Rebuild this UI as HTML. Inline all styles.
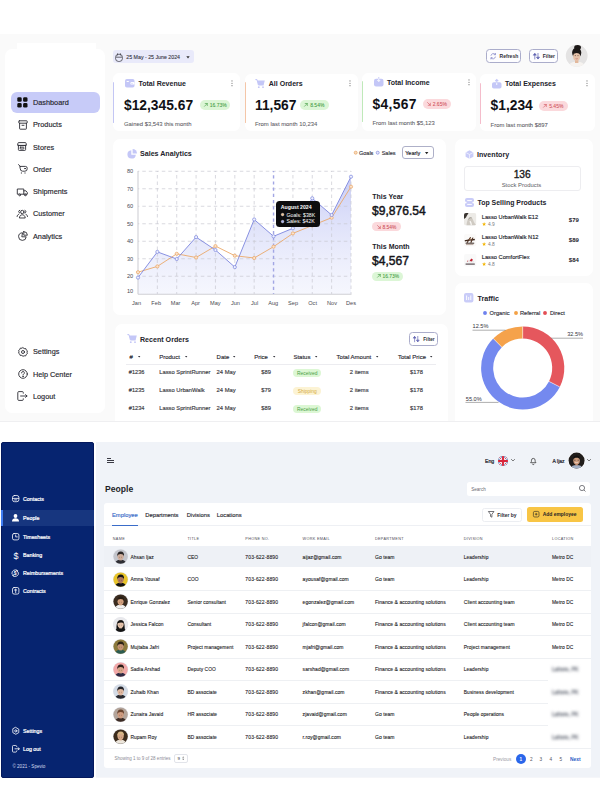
<!DOCTYPE html>
<html><head><meta charset="utf-8">
<style>
*{margin:0;padding:0;box-sizing:border-box}
html,body{width:600px;height:800px;overflow:hidden;background:#fff;font-family:"Liberation Sans",sans-serif;color:#1d1d24}
.a{position:absolute;line-height:1;white-space:nowrap}
.s{position:absolute;overflow:visible}
</style></head><body>
<div class="a" style="left:0px;top:34px;width:600px;height:387px;background:#fafafa;border-radius:0px;"></div>
<div class="a" style="left:0px;top:420.6px;width:600px;height:0.9px;background:#efeff1;border-radius:0px;"></div>
<div class="a" style="left:5px;top:49px;width:100px;height:363.6px;background:#fff;border-radius:7px;"></div>
<div class="a" style="left:17px;top:43px;width:79px;height:12px;background:#fff;border-radius:0px;"></div>
<div class="a" style="left:11px;top:91.6px;width:88.8px;height:21.2px;background:#c7cbf8;border-radius:6px;"></div>
<div class="a" style="left:33.00px;top:98.80px;font-size:7.3px;color:#26262e;-webkit-text-stroke:0.15px #26262e;">Dashboard</div>
<div class="a" style="left:33.00px;top:121.10px;font-size:7.3px;color:#26262e;-webkit-text-stroke:0.15px #26262e;">Products</div>
<div class="a" style="left:33.00px;top:143.50px;font-size:7.3px;color:#26262e;-webkit-text-stroke:0.15px #26262e;">Stores</div>
<div class="a" style="left:33.00px;top:165.70px;font-size:7.3px;color:#26262e;-webkit-text-stroke:0.15px #26262e;">Order</div>
<div class="a" style="left:33.00px;top:188.00px;font-size:7.3px;color:#26262e;-webkit-text-stroke:0.15px #26262e;">Shipments</div>
<div class="a" style="left:33.00px;top:210.30px;font-size:7.3px;color:#26262e;-webkit-text-stroke:0.15px #26262e;">Customer</div>
<div class="a" style="left:33.00px;top:232.60px;font-size:7.3px;color:#26262e;-webkit-text-stroke:0.15px #26262e;">Analytics</div>
<div class="a" style="left:33.00px;top:347.90px;font-size:7.3px;color:#26262e;-webkit-text-stroke:0.15px #26262e;">Settings</div>
<div class="a" style="left:33.00px;top:370.50px;font-size:7.3px;color:#26262e;-webkit-text-stroke:0.15px #26262e;">Help Center</div>
<div class="a" style="left:33.00px;top:392.70px;font-size:7.3px;color:#26262e;-webkit-text-stroke:0.15px #26262e;">Logout</div>
<svg class="s" style="left:17px;top:97px;" width="11" height="11" viewBox="0 0 11 11"><rect x="0.3" y="0.3" width="4.4" height="4.4" rx="1.3" fill="#111"/><rect x="6.1" y="0.3" width="4.4" height="4.4" rx="1.3" fill="#111"/><rect x="0.3" y="6.1" width="4.4" height="4.4" rx="1.3" fill="#111"/><rect x="6.1" y="6.1" width="4.4" height="4.4" rx="1.3" fill="#111"/></svg>
<svg class="s" style="left:17.5px;top:119.5px;" width="10" height="10" viewBox="0 0 10 10"><g fill="none" stroke="#2b2b33" stroke-width="0.9" stroke-linecap="round" stroke-linejoin="round"><rect x="0.8" y="0.8" width="8.4" height="2.4" rx="0.5"/><path d="M1.6 3.2v5.4a0.6 0.6 0 0 0 0.6 0.6h5.6a0.6 0.6 0 0 0 0.6-0.6V3.2"/><path d="M4 5.3h2"/></g></svg>
<svg class="s" style="left:17.3px;top:142.4px;" width="10" height="9" viewBox="0 0 10 9"><g fill="none" stroke="#2b2b33" stroke-width="0.9" stroke-linecap="round" stroke-linejoin="round"><path d="M0.8 3V1.6a1 1 0 0 1 1-1h6.4a1 1 0 0 1 1 1V3z"/><path d="M0.8 3a1.1 1.1 0 0 0 2.1 0a1.1 1.1 0 0 0 2.1 0a1.1 1.1 0 0 0 2.1 0a1.1 1.1 0 0 0 2.1 0"/><path d="M1.4 3.8v3.8a0.8 0.8 0 0 0 0.8 0.8h5.6a0.8 0.8 0 0 0 0.8-0.8V3.8"/><rect x="3.2" y="5.2" width="3.6" height="1.8" rx="0.4"/></g></svg>
<svg class="s" style="left:17.6px;top:164.2px;" width="10" height="10" viewBox="0 0 10 10"><g fill="none" stroke="#2b2b33" stroke-width="0.9" stroke-linecap="round" stroke-linejoin="round"><path d="M0.6 0.6L2.2 2.4"/><path d="M2.2 2.4h5.2a1.8 1.8 0 0 1 1.8 1.8v0.6a2.4 2.4 0 0 1-2.4 2.4H4.6a2.4 2.4 0 0 1-2.4-2.4z"/><circle cx="7" cy="4.6" r="0.35" fill="#2b2b33"/><path d="M3.4 8.8v0.4M7 8.8v0.4"/></g></svg>
<svg class="s" style="left:17px;top:186.5px;" width="11" height="10" viewBox="0 0 11 10"><g fill="none" stroke="#2b2b33" stroke-width="0.9" stroke-linecap="round" stroke-linejoin="round"><path d="M0.7 2h6.1v5.2H0.7z"/><path d="M6.8 3.8h2.1l1.4 1.7v1.7H6.8"/><circle cx="2.6" cy="7.9" r="0.9" fill="#fff"/><circle cx="8.3" cy="7.9" r="0.9" fill="#fff"/></g></svg>
<svg class="s" style="left:17px;top:209.4px;" width="11" height="9" viewBox="0 0 11 9"><g fill="none" stroke="#2b2b33" stroke-width="0.9" stroke-linecap="round" stroke-linejoin="round"><circle cx="5.3" cy="3" r="1.7"/><path d="M2.4 8.6c0.2-1.8 1.4-2.8 2.9-2.8s2.7 1 2.9 2.8z"/><path d="M7.9 1.3a1.4 1.4 0 0 1 0 2.7M8.9 5.3c0.9 0.3 1.5 1 1.6 2.2M2.7 1.3a1.4 1.4 0 0 0 0 2.7M1.7 5.3c-0.9 0.3-1.5 1-1.6 2.2"/></g></svg>
<svg class="s" style="left:17.5px;top:231px;" width="10" height="10" viewBox="0 0 10 10"><g fill="none" stroke="#2b2b33" stroke-width="0.9" stroke-linecap="round" stroke-linejoin="round"><path d="M4.2 1.8a3.8 3.8 0 1 0 4 4H4.2z"/><path d="M5.8 0.6v3.6h3.6A3.6 3.6 0 0 0 5.8 0.6z"/></g></svg>
<svg class="s" style="left:17.5px;top:346.5px;" width="10" height="10" viewBox="0 0 10 10"><g fill="none" stroke="#2b2b33" stroke-width="0.9" stroke-linecap="round" stroke-linejoin="round"><path d="M5 0.7l1.2 0.9 1.5-0.1 0.5 1.4 1.2 0.9-0.4 1.4 0.4 1.4-1.2 0.9-0.5 1.4-1.5-0.1L5 9.3 3.8 8.4l-1.5 0.1-0.5-1.4-1.2-0.9 0.4-1.4-0.4-1.4 1.2-0.9 0.5-1.4 1.5 0.1z"/><circle cx="5" cy="5" r="1.5"/></g></svg>
<svg class="s" style="left:17.5px;top:369px;" width="10" height="10" viewBox="0 0 10 10"><g fill="none" stroke="#2b2b33" stroke-width="0.9" stroke-linecap="round" stroke-linejoin="round"><circle cx="5" cy="5" r="4.3"/><path d="M3.6 3.9a1.4 1.4 0 1 1 1.9 1.3c-0.4 0.2-0.5 0.5-0.5 0.9"/><circle cx="5" cy="7.4" r="0.25" fill="#2b2b33"/></g></svg>
<svg class="s" style="left:17px;top:391px;" width="11" height="10" viewBox="0 0 11 10"><g fill="none" stroke="#2b2b33" stroke-width="0.9" stroke-linecap="round" stroke-linejoin="round"><path d="M6.3 2.2V1.6a1 1 0 0 0-1-1H1.8a1 1 0 0 0-1 1v6.8a1 1 0 0 0 1 1h3.5a1 1 0 0 0 1-1v-0.6"/><path d="M3.6 5h6.4M8.6 3.6L10 5 8.6 6.4"/></g></svg>
<div class="a" style="left:113px;top:50.2px;width:81.4px;height:13.2px;background:#e9eafa;border-radius:3px;"></div>
<svg class="s" style="left:115.4px;top:52.6px;" width="8" height="9" viewBox="0 0 8 9"><g fill="none" stroke="#3a3a42" stroke-width="0.75"><rect x="0.5" y="1.3" width="7" height="7.2" rx="3.2"/><path d="M2.6 0.3v2M5.4 0.3v2M1 4.2h6"/></g></svg>
<div class="a" style="left:126.30px;top:54.88px;font-size:5.25px;color:#2e2e38;-webkit-text-stroke:0.08px #2e2e38;">25 May - 25 June 2024</div>
<svg class="s" style="left:185.5px;top:56px;" width="4" height="3" viewBox="0 0 4 3"><path d="M0.3 0.3h3.4L2 2.4z" fill="#333"/></svg>
<div class="a" style="left:485.5px;top:49px;width:35.5px;height:14px;border:0.9px solid #abadcb;border-radius:3.5px;background:#fdfdff"></div>
<svg class="s" style="left:489.8px;top:53px;" width="6.4" height="6.4" viewBox="0 0 6.4 6.4"><g fill="none" stroke="#7a7dc4" stroke-width="0.7" stroke-linecap="round"><path d="M1 2.4A2.5 2.5 0 0 1 5.2 1.3"/><path d="M5.4 4A2.5 2.5 0 0 1 1.2 5.1"/><path d="M5.5 0.4v1.3H4.2M0.9 6V4.7h1.3"/></g></svg>
<div class="a" style="left:499.60px;top:53.94px;font-size:5.0px;color:#2e2e36;font-weight:bold;">Refresh</div>
<div class="a" style="left:529px;top:49px;width:28.5px;height:14px;border:0.9px solid #abadcb;border-radius:3.5px;background:#fdfdff"></div>
<svg class="s" style="left:533px;top:53px;" width="7" height="6.4" viewBox="0 0 7 6.4"><g fill="none" stroke="#5a5cae" stroke-width="0.7" stroke-linecap="round"><path d="M1.8 6V0.6"/><path d="M0.5 1.9L1.8 0.5 3.1 1.9z" fill="#5a5cae"/><path d="M5 0.4v5.4"/><path d="M3.7 4.5L5 5.9 6.3 4.5z" fill="#5a5cae"/></g></svg>
<div class="a" style="left:542.80px;top:53.94px;font-size:5.0px;color:#2e2e36;font-weight:bold;">Filter</div>
<svg class="s" style="left:564.8px;top:43.6px;" width="23.4" height="23.4" viewBox="0 0 23.4 23.4"><defs><clipPath id="av1"><circle cx="11.7" cy="11.7" r="10.9"/></clipPath></defs>
<circle cx="11.7" cy="11.7" r="11.7" fill="#fbfbfb"/>
<g clip-path="url(#av1)"><rect width="23.4" height="23.4" fill="#e4e3e3"/>
<path d="M3 23.4c1.2-4.4 4.4-5.6 8.7-5.6s7.6 1.2 8.7 5.6z" fill="#f6f3f0"/>
<rect x="10" y="15" width="3.4" height="4" fill="#e2b89c"/>
<ellipse cx="11.7" cy="8.8" rx="4.6" ry="5.2" fill="#1c1817"/>
<ellipse cx="12.6" cy="3.4" rx="3.4" ry="2.4" fill="#1c1817"/>
<ellipse cx="11.6" cy="12.2" rx="3.5" ry="4.5" fill="#e7c3aa"/>
<path d="M7.9 11.4c0.2-2.6 1.6-4.3 3.8-4.3s3.6 1.7 3.8 4.3c-0.8-1.6-2.2-2.4-3.8-2.4s-3 0.8-3.8 2.4z" fill="#1c1817"/>
<path d="M9.8 11.6h1.2M12.4 11.6h1.2" stroke="#4a3028" stroke-width="0.6"/>
<path d="M10.6 14.6c0.7 0.4 1.5 0.4 2.2 0" stroke="#b0505a" stroke-width="0.5" fill="none"/></g></svg>
<div class="a" style="left:113px;top:73px;width:127px;height:58px;background:#fff;border-radius:6px;"></div>
<div class="a" style="left:112.5px;top:82px;width:1.5px;height:41px;background:#c3c6f4;border-radius:1px;"></div>
<svg class="s" style="left:125.0px;top:79px;" width="9.5" height="8.5" viewBox="0 0 9.5 8.5"><rect x="0" y="0" width="9.5" height="8.5" rx="1.8" fill="#c4c7f7"/><rect x="1.5" y="2" width="2.5" height="0.9" rx="0.4" fill="#fff"/><rect x="5.4" y="3" width="4.1" height="2.6" rx="1.2" fill="#fff"/><circle cx="7" cy="4.3" r="0.6" fill="#c4c7f7"/></svg>
<div class="a" style="left:138.50px;top:79.70px;font-size:7.0px;color:#23232b;font-weight:bold;">Total Revenue</div>
<div class="a" style="left:124.00px;top:98.81px;font-size:13.8px;color:#111116;font-weight:bold;">$12,345.67</div>
<div class="a" style="left:199.5px;top:100px;width:30px;height:10px;background:#dcf6d6;border-radius:5.0px;"></div>
<svg class="s" style="left:203.7px;top:103.1px;" width="3.8" height="3.8" viewBox="0 0 3.8 3.8"><path d="M0.5 3.3L3.3 0.5M1.2 0.5h2.1v2.1" fill="none" stroke="#3f9a3f" stroke-width="0.6" stroke-linecap="round" stroke-linejoin="round"/></svg>
<div class="a" style="left:209.70px;top:103.21px;font-size:5.0px;color:#3f9a3f;-webkit-text-stroke:0.06px #3f9a3f;">16.73%</div>
<div class="a" style="left:124.00px;top:122.11px;font-size:5.9px;color:#5f5f68;-webkit-text-stroke:0.08px #5f5f68;">Gained $3,543 this month</div>
<svg class="s" style="left:231.3px;top:79.8px;" width="2" height="7" viewBox="0 0 2 7"><circle cx="1" cy="0.9" r="0.6" fill="#777"/><circle cx="1" cy="3.3" r="0.6" fill="#777"/><circle cx="1" cy="5.7" r="0.6" fill="#777"/></svg>
<div class="a" style="left:245px;top:73.5px;width:112.5px;height:57.5px;background:#fff;border-radius:6px;"></div>
<div class="a" style="left:244.5px;top:82px;width:1.5px;height:41px;background:#f4c6a8;border-radius:1px;"></div>
<svg class="s" style="left:255.3px;top:78.5px;" width="10" height="9.5" viewBox="0 0 10 9.5"><path d="M0.4 0.6h1.6l1.4 5.4h5.2l1.2-4.4H2.4z" fill="#c4c7f7"/><path d="M0.4 0.6h1.6l1.4 5.4h5.2" stroke="#c4c7f7" stroke-width="1" fill="none"/><circle cx="3.8" cy="8.2" r="0.9" fill="#c4c7f7"/><circle cx="8" cy="8.2" r="0.9" fill="#c4c7f7"/></svg>
<div class="a" style="left:268.80px;top:79.70px;font-size:7.0px;color:#23232b;font-weight:bold;">All Orders</div>
<div class="a" style="left:255.00px;top:98.81px;font-size:13.8px;color:#111116;font-weight:bold;">11,567</div>
<div class="a" style="left:300px;top:100px;width:28.5px;height:10px;background:#dcf6d6;border-radius:5.0px;"></div>
<svg class="s" style="left:304.2px;top:103.1px;" width="3.8" height="3.8" viewBox="0 0 3.8 3.8"><path d="M0.5 3.3L3.3 0.5M1.2 0.5h2.1v2.1" fill="none" stroke="#3f9a3f" stroke-width="0.6" stroke-linecap="round" stroke-linejoin="round"/></svg>
<div class="a" style="left:310.20px;top:103.21px;font-size:5.0px;color:#3f9a3f;-webkit-text-stroke:0.06px #3f9a3f;">8.54%</div>
<div class="a" style="left:255.00px;top:122.11px;font-size:5.9px;color:#5f5f68;-webkit-text-stroke:0.08px #5f5f68;">From last month 10,234</div>
<svg class="s" style="left:349.3px;top:79.8px;" width="2" height="7" viewBox="0 0 2 7"><circle cx="1" cy="0.9" r="0.6" fill="#777"/><circle cx="1" cy="3.3" r="0.6" fill="#777"/><circle cx="1" cy="5.7" r="0.6" fill="#777"/></svg>
<div class="a" style="left:362px;top:72.5px;width:113.5px;height:58px;background:#fff;border-radius:6px;"></div>
<div class="a" style="left:361.5px;top:81px;width:1.5px;height:41px;background:#bfe9b9;border-radius:1px;"></div>
<svg class="s" style="left:373.5px;top:77px;" width="9.5" height="9.5" viewBox="0 0 9.5 9.5"><rect x="0" y="1.8" width="9.5" height="7.7" rx="2" fill="#c4c7f7"/><path d="M4.75 0.2v4.2M3.3 3l1.45 1.5L6.2 3" stroke="#fff" stroke-width="0.9" fill="none"/><path d="M4.75 0v1.8" stroke="#c4c7f7" stroke-width="0.9"/></svg>
<div class="a" style="left:387.00px;top:78.70px;font-size:7.0px;color:#23232b;font-weight:bold;">Total Income</div>
<div class="a" style="left:372.50px;top:97.81px;font-size:13.8px;color:#111116;font-weight:bold;letter-spacing:0.35px">$4,567</div>
<div class="a" style="left:422.5px;top:99px;width:28.5px;height:10px;background:#fbd9dc;border-radius:5.0px;"></div>
<svg class="s" style="left:426.7px;top:102.1px;" width="3.8" height="3.8" viewBox="0 0 3.8 3.8"><path d="M0.5 0.5L3.3 3.3M3.3 1.2v2.1H1.2" fill="none" stroke="#d0505a" stroke-width="0.6" stroke-linecap="round" stroke-linejoin="round"/></svg>
<div class="a" style="left:432.70px;top:102.21px;font-size:5.0px;color:#d0505a;-webkit-text-stroke:0.06px #d0505a;">2.65%</div>
<div class="a" style="left:372.50px;top:121.11px;font-size:5.9px;color:#5f5f68;-webkit-text-stroke:0.08px #5f5f68;">From last month $5,123</div>
<svg class="s" style="left:467.6px;top:78.8px;" width="2" height="7" viewBox="0 0 2 7"><circle cx="1" cy="0.9" r="0.6" fill="#777"/><circle cx="1" cy="3.3" r="0.6" fill="#777"/><circle cx="1" cy="5.7" r="0.6" fill="#777"/></svg>
<div class="a" style="left:480px;top:73.5px;width:114.5px;height:57.5px;background:#fff;border-radius:6px;"></div>
<div class="a" style="left:479.5px;top:82.5px;width:1.5px;height:41px;background:#f4bccb;border-radius:1px;"></div>
<svg class="s" style="left:491.5px;top:78.5px;" width="9.5" height="9.5" viewBox="0 0 9.5 9.5"><rect x="0" y="3.2" width="9.5" height="6.3" rx="1.8" fill="#c4c7f7"/><path d="M4.75 6V0.6M3.2 2.1l1.55-1.5L6.3 2.1" stroke="#c4c7f7" stroke-width="1.1" fill="none"/><path d="M4.75 6V3.6" stroke="#fff" stroke-width="0.9"/></svg>
<div class="a" style="left:505.00px;top:80.20px;font-size:7.0px;color:#23232b;font-weight:bold;">Total Expenses</div>
<div class="a" style="left:490.60px;top:99.31px;font-size:13.8px;color:#111116;font-weight:bold;">$1,234</div>
<div class="a" style="left:539px;top:100.5px;width:28.5px;height:10px;background:#fbd9dc;border-radius:5.0px;"></div>
<svg class="s" style="left:543.2px;top:103.6px;" width="3.8" height="3.8" viewBox="0 0 3.8 3.8"><path d="M0.5 3.3L3.3 0.5M1.2 0.5h2.1v2.1" fill="none" stroke="#d0505a" stroke-width="0.6" stroke-linecap="round" stroke-linejoin="round"/></svg>
<div class="a" style="left:549.20px;top:103.71px;font-size:5.0px;color:#d0505a;-webkit-text-stroke:0.06px #d0505a;">5.45%</div>
<div class="a" style="left:490.60px;top:122.61px;font-size:5.9px;color:#5f5f68;-webkit-text-stroke:0.08px #5f5f68;">From last month $897</div>
<svg class="s" style="left:586.3px;top:80.3px;" width="2" height="7" viewBox="0 0 2 7"><circle cx="1" cy="0.9" r="0.6" fill="#777"/><circle cx="1" cy="3.3" r="0.6" fill="#777"/><circle cx="1" cy="5.7" r="0.6" fill="#777"/></svg>
<div class="a" style="left:112.8px;top:138.6px;width:332.8px;height:176.6px;background:#fff;border-radius:7px;"></div>
<svg class="s" style="left:126.5px;top:148.5px;" width="10" height="10" viewBox="0 0 10 10"><path d="M4.3 1.2a4.2 4.2 0 1 0 4.5 4.5H4.3z" fill="#c4c7f7"/><path d="M5.6 0v4.4H10A4.4 4.4 0 0 0 5.6 0z" fill="#c4c7f7"/></svg>
<div class="a" style="left:140.00px;top:150.50px;font-size:7.1px;color:#23232b;font-weight:bold;">Sales Analytics</div>
<svg class="s" style="left:353.5px;top:151.1px;" width="3.4" height="3.4" viewBox="0 0 3.4 3.4"><circle cx="1.7" cy="1.7" r="1.5" fill="#f7dcc0" stroke="#e8a25e" stroke-width="0.7"/></svg>
<div class="a" style="left:359.00px;top:151.11px;font-size:5.5px;color:#33333b;-webkit-text-stroke:0.15px #33333b;">Goals</div>
<svg class="s" style="left:375.6px;top:151.1px;" width="3.4" height="3.4" viewBox="0 0 3.4 3.4"><circle cx="1.7" cy="1.7" r="1.5" fill="#e6e8fb" stroke="#7e86dc" stroke-width="0.7"/></svg>
<div class="a" style="left:381.70px;top:151.11px;font-size:5.5px;color:#33333b;-webkit-text-stroke:0.15px #33333b;">Sales</div>
<div class="a" style="left:401.8px;top:146.1px;width:31.9px;height:13.2px;border:1px solid #aeb0c8;border-radius:3px;background:#fff"></div>
<div class="a" style="left:405.20px;top:150.91px;font-size:5.5px;color:#22222a;-webkit-text-stroke:0.15px #22222a;">Yearly</div>
<svg class="s" style="left:425px;top:152px;" width="3.4" height="2.4" viewBox="0 0 3.4 2.4"><path d="M0 0h3.4L1.7 2.2z" fill="#222"/></svg>
<svg class="s" style="left:0px;top:0px;" width="600" height="800" viewBox="0 0 600 800"><defs><linearGradient id="ga" x1="0" y1="0" x2="0" y2="1"><stop offset="0" stop-color="#b7bdf3" stop-opacity="0.75"/><stop offset="1" stop-color="#e4e7fb" stop-opacity="0.35"/></linearGradient></defs><polygon points="138.00,294.0 138.00,277.60 157.36,251.90 176.73,259.00 196.09,237.10 215.45,250.00 234.82,267.10 254.18,219.50 273.55,236.30 292.91,228.30 312.27,198.30 331.64,215.00 351.00,176.70 351.00,294.0" fill="url(#ga)"/><line x1="138.0" y1="171.25" x2="351" y2="171.25" stroke="#c9c9d1" stroke-width="0.7" stroke-dasharray="3.5 3" stroke-dashoffset="2.2"/><line x1="138.0" y1="188.75" x2="351" y2="188.75" stroke="#c9c9d1" stroke-width="0.7" stroke-dasharray="3.5 3" stroke-dashoffset="2.2"/><line x1="138.0" y1="206.25" x2="351" y2="206.25" stroke="#c9c9d1" stroke-width="0.7" stroke-dasharray="3.5 3" stroke-dashoffset="2.2"/><line x1="138.0" y1="223.75" x2="351" y2="223.75" stroke="#c9c9d1" stroke-width="0.7" stroke-dasharray="3.5 3" stroke-dashoffset="2.2"/><line x1="138.0" y1="241.25" x2="351" y2="241.25" stroke="#c9c9d1" stroke-width="0.7" stroke-dasharray="3.5 3" stroke-dashoffset="2.2"/><line x1="138.0" y1="258.75" x2="351" y2="258.75" stroke="#c9c9d1" stroke-width="0.7" stroke-dasharray="3.5 3" stroke-dashoffset="2.2"/><line x1="138.0" y1="276.25" x2="351" y2="276.25" stroke="#c9c9d1" stroke-width="0.7" stroke-dasharray="3.5 3" stroke-dashoffset="2.2"/><line x1="157.36" y1="171" x2="157.36" y2="294.0" stroke="#c9c9d1" stroke-width="0.7" stroke-dasharray="3.5 3" stroke-dashoffset="2.5"/><line x1="176.73" y1="171" x2="176.73" y2="294.0" stroke="#c9c9d1" stroke-width="0.7" stroke-dasharray="3.5 3" stroke-dashoffset="2.5"/><line x1="196.09" y1="171" x2="196.09" y2="294.0" stroke="#c9c9d1" stroke-width="0.7" stroke-dasharray="3.5 3" stroke-dashoffset="2.5"/><line x1="215.45" y1="171" x2="215.45" y2="294.0" stroke="#c9c9d1" stroke-width="0.7" stroke-dasharray="3.5 3" stroke-dashoffset="2.5"/><line x1="234.82" y1="171" x2="234.82" y2="294.0" stroke="#c9c9d1" stroke-width="0.7" stroke-dasharray="3.5 3" stroke-dashoffset="2.5"/><line x1="254.18" y1="171" x2="254.18" y2="294.0" stroke="#c9c9d1" stroke-width="0.7" stroke-dasharray="3.5 3" stroke-dashoffset="2.5"/><line x1="273.55" y1="171" x2="273.55" y2="294.0" stroke="#a2a6e4" stroke-width="1.4" stroke-dasharray="3.2 3" stroke-dashoffset="2"/><line x1="292.91" y1="171" x2="292.91" y2="294.0" stroke="#c9c9d1" stroke-width="0.7" stroke-dasharray="3.5 3" stroke-dashoffset="2.5"/><line x1="312.27" y1="171" x2="312.27" y2="294.0" stroke="#c9c9d1" stroke-width="0.7" stroke-dasharray="3.5 3" stroke-dashoffset="2.5"/><line x1="331.64" y1="171" x2="331.64" y2="294.0" stroke="#c9c9d1" stroke-width="0.7" stroke-dasharray="3.5 3" stroke-dashoffset="2.5"/><line x1="351.00" y1="171" x2="351.00" y2="294.0" stroke="#c9c9d1" stroke-width="0.7" stroke-dasharray="3.5 3" stroke-dashoffset="2.5"/><line x1="138.0" y1="171" x2="138.0" y2="294.3" stroke="#cfcfd5" stroke-width="1.1"/><line x1="138.0" y1="294.3" x2="351.5" y2="294.3" stroke="#cfcfd5" stroke-width="1.1"/><polyline points="138.00,272.20 157.36,266.40 176.73,253.80 196.09,257.50 215.45,246.10 234.82,255.70 254.18,258.00 273.55,246.70 292.91,233.40 312.27,225.50 331.64,217.70 351.00,186.70" fill="none" stroke="#eaa86a" stroke-width="0.9"/><polyline points="138.00,277.60 157.36,251.90 176.73,259.00 196.09,237.10 215.45,250.00 234.82,267.10 254.18,219.50 273.55,236.30 292.91,228.30 312.27,198.30 331.64,215.00 351.00,176.70" fill="none" stroke="#7d86de" stroke-width="0.9"/><circle cx="138.00" cy="272.20" r="1.6" fill="#fbe3cb" stroke="#e9a463" stroke-width="0.7"/><circle cx="157.36" cy="266.40" r="1.6" fill="#fbe3cb" stroke="#e9a463" stroke-width="0.7"/><circle cx="176.73" cy="253.80" r="1.6" fill="#fbe3cb" stroke="#e9a463" stroke-width="0.7"/><circle cx="196.09" cy="257.50" r="1.6" fill="#fbe3cb" stroke="#e9a463" stroke-width="0.7"/><circle cx="215.45" cy="246.10" r="1.6" fill="#fbe3cb" stroke="#e9a463" stroke-width="0.7"/><circle cx="234.82" cy="255.70" r="1.6" fill="#fbe3cb" stroke="#e9a463" stroke-width="0.7"/><circle cx="254.18" cy="258.00" r="1.6" fill="#fbe3cb" stroke="#e9a463" stroke-width="0.7"/><circle cx="273.55" cy="246.70" r="1.6" fill="#fbe3cb" stroke="#e9a463" stroke-width="0.7"/><circle cx="292.91" cy="233.40" r="1.6" fill="#fbe3cb" stroke="#e9a463" stroke-width="0.7"/><circle cx="312.27" cy="225.50" r="1.6" fill="#fbe3cb" stroke="#e9a463" stroke-width="0.7"/><circle cx="331.64" cy="217.70" r="1.6" fill="#fbe3cb" stroke="#e9a463" stroke-width="0.7"/><circle cx="351.00" cy="186.70" r="1.6" fill="#fbe3cb" stroke="#e9a463" stroke-width="0.7"/><circle cx="138.00" cy="277.60" r="1.6" fill="#eef0fd" stroke="#7d86de" stroke-width="0.7"/><circle cx="157.36" cy="251.90" r="1.6" fill="#eef0fd" stroke="#7d86de" stroke-width="0.7"/><circle cx="176.73" cy="259.00" r="1.6" fill="#eef0fd" stroke="#7d86de" stroke-width="0.7"/><circle cx="196.09" cy="237.10" r="1.6" fill="#eef0fd" stroke="#7d86de" stroke-width="0.7"/><circle cx="215.45" cy="250.00" r="1.6" fill="#eef0fd" stroke="#7d86de" stroke-width="0.7"/><circle cx="234.82" cy="267.10" r="1.6" fill="#eef0fd" stroke="#7d86de" stroke-width="0.7"/><circle cx="254.18" cy="219.50" r="1.6" fill="#eef0fd" stroke="#7d86de" stroke-width="0.7"/><circle cx="273.55" cy="236.30" r="1.6" fill="#eef0fd" stroke="#7d86de" stroke-width="0.7"/><circle cx="292.91" cy="228.30" r="1.6" fill="#eef0fd" stroke="#7d86de" stroke-width="0.7"/><circle cx="312.27" cy="198.30" r="1.6" fill="#eef0fd" stroke="#7d86de" stroke-width="0.7"/><circle cx="331.64" cy="215.00" r="1.6" fill="#eef0fd" stroke="#7d86de" stroke-width="0.7"/><circle cx="351.00" cy="176.70" r="1.6" fill="#eef0fd" stroke="#7d86de" stroke-width="0.7"/></svg>
<div class="a" style="right:466.80px;top:169.14px;font-size:5.6px;color:#4a4a52;">80</div>
<div class="a" style="right:466.80px;top:186.64px;font-size:5.6px;color:#4a4a52;">70</div>
<div class="a" style="right:466.80px;top:204.14px;font-size:5.6px;color:#4a4a52;">60</div>
<div class="a" style="right:466.80px;top:221.64px;font-size:5.6px;color:#4a4a52;">50</div>
<div class="a" style="right:466.80px;top:239.14px;font-size:5.6px;color:#4a4a52;">40</div>
<div class="a" style="right:466.80px;top:256.64px;font-size:5.6px;color:#4a4a52;">30</div>
<div class="a" style="right:466.80px;top:274.14px;font-size:5.6px;color:#4a4a52;">20</div>
<div class="a" style="right:466.80px;top:289.39px;font-size:5.6px;color:#4a4a52;">10</div>
<div class="a" style="left:136.50px;transform:translateX(-50%);top:301.09px;font-size:5.6px;color:#4a4a52;">Jan</div>
<div class="a" style="left:156.20px;transform:translateX(-50%);top:301.09px;font-size:5.6px;color:#4a4a52;">Feb</div>
<div class="a" style="left:175.60px;transform:translateX(-50%);top:301.09px;font-size:5.6px;color:#4a4a52;">Mar</div>
<div class="a" style="left:195.60px;transform:translateX(-50%);top:301.09px;font-size:5.6px;color:#4a4a52;">Apr</div>
<div class="a" style="left:215.40px;transform:translateX(-50%);top:301.09px;font-size:5.6px;color:#4a4a52;">May</div>
<div class="a" style="left:235.40px;transform:translateX(-50%);top:301.09px;font-size:5.6px;color:#4a4a52;">Jun</div>
<div class="a" style="left:254.60px;transform:translateX(-50%);top:301.09px;font-size:5.6px;color:#4a4a52;">Jul</div>
<div class="a" style="left:273.20px;transform:translateX(-50%);top:301.09px;font-size:5.6px;color:#4a4a52;">Aug</div>
<div class="a" style="left:293.10px;transform:translateX(-50%);top:301.09px;font-size:5.6px;color:#4a4a52;">Sep</div>
<div class="a" style="left:312.60px;transform:translateX(-50%);top:301.09px;font-size:5.6px;color:#4a4a52;">Oct</div>
<div class="a" style="left:332.00px;transform:translateX(-50%);top:301.09px;font-size:5.6px;color:#4a4a52;">Nov</div>
<div class="a" style="left:351.00px;transform:translateX(-50%);top:301.09px;font-size:5.6px;color:#4a4a52;">Des</div>
<div class="a" style="left:276px;top:200.5px;width:44px;height:26.8px;background:#0c0c0e;border-radius:3.5px;"></div>
<div class="a" style="left:280.80px;top:205.34px;font-size:5.2px;color:#fff;font-weight:bold;">August 2024</div>
<svg class="s" style="left:281.2px;top:213.4px;" width="3.2" height="3.2" viewBox="0 0 3.2 3.2"><circle cx="1.6" cy="1.6" r="1.3" fill="#f2c08e" stroke="#fff" stroke-width="0.4"/></svg>
<div class="a" style="left:286.40px;top:212.98px;font-size:5.25px;color:#fff;">Goals: $38K</div>
<svg class="s" style="left:281.2px;top:219.6px;" width="3.2" height="3.2" viewBox="0 0 3.2 3.2"><circle cx="1.6" cy="1.6" r="1.3" fill="#aab0f0" stroke="#fff" stroke-width="0.4"/></svg>
<div class="a" style="left:286.40px;top:219.18px;font-size:5.25px;color:#fff;">Sales: $42K</div>
<div class="a" style="left:372.30px;top:193.20px;font-size:7.0px;color:#23232b;font-weight:bold;">This Year</div>
<div class="a" style="left:372.00px;top:204.80px;font-size:12.1px;color:#15151a;-webkit-text-stroke:0.45px #15151a;">$9,876.54</div>
<div class="a" style="left:372.3px;top:222.3px;width:28.4px;height:8.6px;background:#fbd9dc;border-radius:4.3px;"></div>
<svg class="s" style="left:376.5px;top:224.70000000000002px;" width="3.8" height="3.8" viewBox="0 0 3.8 3.8"><path d="M0.5 0.5L3.3 3.3M3.3 1.2v2.1H1.2" fill="none" stroke="#cc4b55" stroke-width="0.6" stroke-linecap="round" stroke-linejoin="round"/></svg>
<div class="a" style="left:382.50px;top:225.81px;font-size:4.9px;color:#cc4b55;-webkit-text-stroke:0.06px #cc4b55;">8.54%</div>
<div class="a" style="left:372.30px;top:242.70px;font-size:7.0px;color:#23232b;font-weight:bold;">This Month</div>
<div class="a" style="left:372.00px;top:254.60px;font-size:12.1px;color:#15151a;-webkit-text-stroke:0.45px #15151a;">$4,567</div>
<div class="a" style="left:372.3px;top:271.8px;width:30.4px;height:8.8px;background:#dcf6d6;border-radius:4.4px;"></div>
<svg class="s" style="left:376.5px;top:274.3px;" width="3.8" height="3.8" viewBox="0 0 3.8 3.8"><path d="M0.5 3.3L3.3 0.5M1.2 0.5h2.1v2.1" fill="none" stroke="#3f9a3f" stroke-width="0.6" stroke-linecap="round" stroke-linejoin="round"/></svg>
<div class="a" style="left:382.50px;top:275.41px;font-size:4.9px;color:#3f9a3f;-webkit-text-stroke:0.06px #3f9a3f;">16.73%</div>
<div class="a" style="left:454.5px;top:138.5px;width:138.5px;height:137.5px;background:#fff;border-radius:7px;"></div>
<svg class="s" style="left:464.8px;top:149.8px;" width="9" height="9" viewBox="0 0 9 9"><path d="M4.5 0.3l3.9 2.1v4.3L4.5 8.8 0.6 6.7V2.4z" fill="#c9ccf8"/><path d="M0.6 2.4l3.9 2.1 3.9-2.1M4.5 4.5v4.3" stroke="#fff" stroke-width="0.6" fill="none"/></svg>
<div class="a" style="left:477.00px;top:151.80px;font-size:7.15px;color:#23232b;font-weight:bold;">Inventory</div>
<div class="a" style="left:463.8px;top:165.5px;width:116.8px;height:25px;border:1px solid #ededf0;border-radius:3px"></div>
<div class="a" style="left:522.20px;transform:translateX(-50%);top:170.10px;font-size:10.2px;color:#1a1a20;-webkit-text-stroke:0.35px #1a1a20;">136</div>
<div class="a" style="left:521.50px;transform:translateX(-50%);top:182.81px;font-size:5.9px;color:#5c5c64;">Stock Products</div>
<svg class="s" style="left:464.5px;top:197.5px;" width="9" height="9" viewBox="0 0 9 9"><rect x="0" y="0" width="9" height="9" rx="2" fill="#c9ccf8"/><path d="M2.2 2.6h4.6M2.2 6.4h4.6" stroke="#fff" stroke-width="1"/><circle cx="0.6" cy="4.5" r="1" fill="#fff"/><circle cx="8.4" cy="4.5" r="1" fill="#fff"/></svg>
<div class="a" style="left:477.50px;top:199.70px;font-size:6.95px;color:#23232b;font-weight:bold;">Top Selling Products</div>
<div class="a" style="left:481.80px;top:214.61px;font-size:5.7px;color:#23232b;-webkit-text-stroke:0.15px #23232b;">Lasso UrbanWalk E12</div>
<svg class="s" style="left:482.2px;top:221.60000000000002px;" width="4.2" height="4.2" viewBox="0 0 4.2 4.2"><polygon points="2.10,0.10 2.63,1.47 4.10,1.55 2.96,2.48 3.33,3.90 2.10,3.10 0.87,3.90 1.24,2.48 0.10,1.55 1.57,1.47" fill="#f3b400"/></svg>
<div class="a" style="left:488.00px;top:222.91px;font-size:4.9px;color:#7a7a82;">4.9</div>
<div class="a" style="right:21.20px;top:216.74px;font-size:6.0px;color:#23232b;font-weight:bold;">$79</div>
<div class="a" style="left:481.80px;top:235.11px;font-size:5.7px;color:#23232b;-webkit-text-stroke:0.15px #23232b;">Lasso UrbanWalk N12</div>
<svg class="s" style="left:482.2px;top:242.10000000000002px;" width="4.2" height="4.2" viewBox="0 0 4.2 4.2"><polygon points="2.10,0.10 2.63,1.47 4.10,1.55 2.96,2.48 3.33,3.90 2.10,3.10 0.87,3.90 1.24,2.48 0.10,1.55 1.57,1.47" fill="#f3b400"/></svg>
<div class="a" style="left:488.00px;top:243.41px;font-size:4.9px;color:#7a7a82;">4.8</div>
<div class="a" style="right:21.20px;top:237.24px;font-size:6.0px;color:#23232b;font-weight:bold;">$89</div>
<div class="a" style="left:481.80px;top:255.11px;font-size:5.7px;color:#23232b;-webkit-text-stroke:0.15px #23232b;">Lasso ComfortFlex</div>
<svg class="s" style="left:482.2px;top:262.1px;" width="4.2" height="4.2" viewBox="0 0 4.2 4.2"><polygon points="2.10,0.10 2.63,1.47 4.10,1.55 2.96,2.48 3.33,3.90 2.10,3.10 0.87,3.90 1.24,2.48 0.10,1.55 1.57,1.47" fill="#f3b400"/></svg>
<div class="a" style="left:488.00px;top:263.41px;font-size:4.9px;color:#7a7a82;">4.8</div>
<div class="a" style="right:21.20px;top:257.24px;font-size:6.0px;color:#23232b;font-weight:bold;">$84</div>
<svg class="s" style="left:463.6px;top:213px;" width="12.4" height="12.6" viewBox="0 0 12.4 12.6"><defs><clipPath id="th1"><rect width="12.4" height="12.6" rx="2"/></clipPath></defs><g clip-path="url(#th1)"><rect width="12.4" height="12.6" fill="#eceae6"/><path d="M0 0h4.5c-0.5 1.5-1.8 2.5-2.5 4.5L0 6z" fill="#3a3430"/><path d="M2.5 12.6c0.2-3 1-6.5 3-8.6 1.4-0.4 2.6 0.6 3.4 2.4 0.8 2 1.6 4 3.5 6.2z" fill="#cfcac2"/><path d="M4.4 6.5c0.8-1.4 2-2.2 3.4-1.6" stroke="#8a847c" stroke-width="0.6" fill="none"/><path d="M6 8.2c1 1.6 1.4 3 1.3 4.4" stroke="#f8f7f4" stroke-width="1.4" fill="none"/></g></svg>
<svg class="s" style="left:463.6px;top:234px;" width="12.4" height="12.4" viewBox="0 0 12.4 12.4"><rect width="12.4" height="12.4" rx="2" fill="#fbfaf9"/><path d="M0.8 6.8c2.4-0.6 5-1 7.4-0.9l2.6-0.4" stroke="#3a2418" stroke-width="1.3" fill="none"/><path d="M3 8.8l3.6-5.6M6.8 8.8l2.2-5.2" stroke="#4a2c1c" stroke-width="1.1"/><path d="M1.6 9.2h8.6" stroke="#2a1a12" stroke-width="0.9"/><path d="M5.2 5.4l2.2-0.6" stroke="#b87a44" stroke-width="0.7"/><path d="M2 10.6h7.4" stroke="#7a5a44" stroke-width="0.5"/></g></svg>
<svg class="s" style="left:463.6px;top:254px;" width="12.4" height="12.4" viewBox="0 0 12.4 12.4"><rect width="12.4" height="12.4" rx="2" fill="#f9f9f9"/><path d="M2 8.2c1.4-0.8 2.6-1.2 3.8-1.4l1.4-1.6 3 2.2v1.2z" fill="#e8e6e6"/><path d="M5.6 6.8l1.8-2.2 1.6 1.2-1.4 1.6z" fill="#c21f2f"/><path d="M3 7.6l1.2-1" stroke="#c21f2f" stroke-width="0.7"/><path d="M1.6 10.1h9.2" stroke="#3a2a30" stroke-width="1"/></g></svg>
<div class="a" style="left:454.7px;top:283.1px;width:138.3px;height:137.5px;background:#fff;border-radius:7px;border-bottom-left-radius:0;border-bottom-right-radius:0"></div>
<svg class="s" style="left:463.8px;top:293.3px;" width="9.4" height="9.4" viewBox="0 0 9.4 9.4"><rect width="9.4" height="9.4" rx="2" fill="#c9ccf8"/><path d="M2.6 2.5v4.6M4.7 4v3.1M6.8 2.5v4.6" stroke="#fff" stroke-width="0.9"/></svg>
<div class="a" style="left:477.50px;top:295.60px;font-size:7.15px;color:#23232b;font-weight:bold;">Traffic</div>
<svg class="s" style="left:483px;top:311.3px;" width="4" height="4" viewBox="0 0 4 4"><circle cx="2" cy="2" r="1.95" fill="#6f82ee"/></svg>
<div class="a" style="left:489.60px;top:311.41px;font-size:5.7px;color:#33333b;-webkit-text-stroke:0.15px #33333b;">Organic</div>
<svg class="s" style="left:513.6px;top:311.3px;" width="4" height="4" viewBox="0 0 4 4"><circle cx="2" cy="2" r="1.95" fill="#f3a145"/></svg>
<div class="a" style="left:520.00px;top:311.41px;font-size:5.7px;color:#33333b;-webkit-text-stroke:0.15px #33333b;">Referral</div>
<svg class="s" style="left:543px;top:311.3px;" width="4" height="4" viewBox="0 0 4 4"><circle cx="2" cy="2" r="1.95" fill="#e34f55"/></svg>
<div class="a" style="left:550.00px;top:311.41px;font-size:5.7px;color:#33333b;-webkit-text-stroke:0.15px #33333b;">Direct</div>
<svg class="s" style="left:0px;top:0px;" width="600" height="800" viewBox="0 0 600 800"><path d="M522.70 326.40A41.6 41.6 0 0 1 559.77 386.89L548.98 381.39A29.5 29.5 0 0 0 522.70 338.50z" fill="#e5575d"/><path d="M559.77 386.89A41.6 41.6 0 1 1 493.28 338.58L501.84 347.14A29.5 29.5 0 1 0 548.98 381.39z" fill="#7489ef"/><path d="M493.28 338.58A41.6 41.6 0 0 1 522.70 326.40L522.70 338.50A29.5 29.5 0 0 0 501.84 347.14z" fill="#f5a24b"/><line x1="522.70" y1="338.50" x2="522.70" y2="326.40" stroke="#fff" stroke-width="0.5"/><line x1="548.98" y1="381.39" x2="559.77" y2="386.89" stroke="#fff" stroke-width="0.5"/><line x1="501.84" y1="347.14" x2="493.28" y2="338.58" stroke="#fff" stroke-width="0.5"/><path d="M472.5 330.2h33" stroke="#777" stroke-width="0.6"/><path d="M551 338.2h32" stroke="#777" stroke-width="0.6"/><path d="M465.5 402.4h33" stroke="#777" stroke-width="0.6"/></svg>
<div class="a" style="left:472.60px;top:324.19px;font-size:5.6px;color:#33333b;">12.5%</div>
<div class="a" style="right:17.00px;top:331.89px;font-size:5.6px;color:#33333b;">32.5%</div>
<div class="a" style="left:465.80px;top:397.29px;font-size:5.6px;color:#33333b;">55.0%</div>
<div class="a" style="left:114.5px;top:324.1px;width:333.5px;height:96.5px;background:#fff;border-radius:7px;border-bottom-left-radius:0;border-bottom-right-radius:0"></div>
<svg class="s" style="left:127.3px;top:333.8px;" width="10" height="9.5" viewBox="0 0 10 9.5"><path d="M0.4 0.6h1.6l1.4 5.4h5.2l1.2-4.4H2.4z" fill="#c4c7f7"/><path d="M0.4 0.6h1.6l1.4 5.4h5.2" stroke="#c4c7f7" stroke-width="1" fill="none"/><circle cx="3.8" cy="8.2" r="0.9" fill="#c4c7f7"/><circle cx="8" cy="8.2" r="0.9" fill="#c4c7f7"/></svg>
<div class="a" style="left:140.00px;top:336.70px;font-size:7.1px;color:#23232b;font-weight:bold;">Recent Orders</div>
<div class="a" style="left:409px;top:331.5px;width:29px;height:14.5px;border:0.9px solid #abadcb;border-radius:3.5px;background:#fff"></div>
<svg class="s" style="left:412.8px;top:335.6px;" width="6.6" height="6.2" viewBox="0 0 6.6 6.2"><g fill="none" stroke="#5a5cae" stroke-width="0.65" stroke-linecap="round"><path d="M1.6 5.8V0.6"/><path d="M0.4 1.8L1.6 0.5 2.8 1.8z" fill="#5a5cae"/><path d="M4.8 0.4v5.2"/><path d="M3.6 4.4L4.8 5.7 6 4.4z" fill="#5a5cae"/></g></svg>
<div class="a" style="left:423.30px;top:337.84px;font-size:4.6px;color:#2e2e36;font-weight:bold;">Filter</div>
<div class="a" style="left:129.50px;top:353.79px;font-size:6.0px;color:#2b2b33;-webkit-text-stroke:0.15px #2b2b33;">#</div>
<svg class="s" style="left:138.0px;top:356.2px;" width="2.4" height="1.6" viewBox="0 0 2.4 1.6"><path d="M0 0h2.4L1.2 1.5z" fill="#2b2b33"/></svg>
<div class="a" style="left:159.20px;top:353.79px;font-size:6.0px;color:#2b2b33;-webkit-text-stroke:0.15px #2b2b33;">Product</div>
<svg class="s" style="left:184.8px;top:356.2px;" width="2.4" height="1.6" viewBox="0 0 2.4 1.6"><path d="M0 0h2.4L1.2 1.5z" fill="#2b2b33"/></svg>
<div class="a" style="left:216.60px;top:353.79px;font-size:6.0px;color:#2b2b33;-webkit-text-stroke:0.15px #2b2b33;">Date</div>
<svg class="s" style="left:233.4px;top:356.2px;" width="2.4" height="1.6" viewBox="0 0 2.4 1.6"><path d="M0 0h2.4L1.2 1.5z" fill="#2b2b33"/></svg>
<div class="a" style="left:254.20px;top:353.79px;font-size:6.0px;color:#2b2b33;-webkit-text-stroke:0.15px #2b2b33;">Price</div>
<svg class="s" style="left:272.5px;top:356.2px;" width="2.4" height="1.6" viewBox="0 0 2.4 1.6"><path d="M0 0h2.4L1.2 1.5z" fill="#2b2b33"/></svg>
<div class="a" style="left:293.40px;top:353.79px;font-size:6.0px;color:#2b2b33;-webkit-text-stroke:0.15px #2b2b33;">Status</div>
<svg class="s" style="left:315.3px;top:356.2px;" width="2.4" height="1.6" viewBox="0 0 2.4 1.6"><path d="M0 0h2.4L1.2 1.5z" fill="#2b2b33"/></svg>
<div class="a" style="left:336.60px;top:353.79px;font-size:6.0px;color:#2b2b33;-webkit-text-stroke:0.15px #2b2b33;">Total Amount</div>
<svg class="s" style="left:375.8px;top:356.2px;" width="2.4" height="1.6" viewBox="0 0 2.4 1.6"><path d="M0 0h2.4L1.2 1.5z" fill="#2b2b33"/></svg>
<div class="a" style="left:398.00px;top:353.79px;font-size:6.0px;color:#2b2b33;-webkit-text-stroke:0.15px #2b2b33;">Total Price</div>
<svg class="s" style="left:430.1px;top:356.2px;" width="2.4" height="1.6" viewBox="0 0 2.4 1.6"><path d="M0 0h2.4L1.2 1.5z" fill="#2b2b33"/></svg>
<div class="a" style="left:126px;top:363.6px;width:309.5px;height:0.8px;background:#ececf0;border-radius:0px;"></div>
<div class="a" style="left:128.80px;top:370.49px;font-size:5.6px;color:#3a3a42;-webkit-text-stroke:0.15px #3a3a42;">#1236</div>
<div class="a" style="left:159.20px;top:370.49px;font-size:5.8px;color:#3a3a42;-webkit-text-stroke:0.15px #3a3a42;">Lasso SprintRunner</div>
<div class="a" style="left:216.60px;top:370.49px;font-size:5.8px;color:#3a3a42;-webkit-text-stroke:0.15px #3a3a42;">24 May</div>
<div class="a" style="left:266.20px;transform:translateX(-50%);top:370.49px;font-size:5.8px;color:#3a3a42;-webkit-text-stroke:0.15px #3a3a42;">$89</div>
<div class="a" style="left:293.4px;top:368.6px;width:27.6px;height:8px;background:#dcf7d4;border-radius:4px;"></div>
<div class="a" style="left:307.20px;transform:translateX(-50%);top:371.71px;font-size:4.9px;color:#4a9c44;">Received</div>
<div class="a" style="left:359.20px;transform:translateX(-50%);top:370.49px;font-size:5.8px;color:#3a3a42;-webkit-text-stroke:0.15px #3a3a42;">2 items</div>
<div class="a" style="left:416.50px;transform:translateX(-50%);top:370.49px;font-size:5.8px;color:#3a3a42;-webkit-text-stroke:0.15px #3a3a42;">$178</div>
<div class="a" style="left:128.80px;top:388.49px;font-size:5.6px;color:#3a3a42;-webkit-text-stroke:0.15px #3a3a42;">#1235</div>
<div class="a" style="left:159.20px;top:388.49px;font-size:5.8px;color:#3a3a42;-webkit-text-stroke:0.15px #3a3a42;">Lasso UrbanWalk</div>
<div class="a" style="left:216.60px;top:388.49px;font-size:5.8px;color:#3a3a42;-webkit-text-stroke:0.15px #3a3a42;">24 May</div>
<div class="a" style="left:266.20px;transform:translateX(-50%);top:388.49px;font-size:5.8px;color:#3a3a42;-webkit-text-stroke:0.15px #3a3a42;">$79</div>
<div class="a" style="left:293.4px;top:386.6px;width:27.6px;height:8px;background:#fcf3d4;border-radius:4px;"></div>
<div class="a" style="left:307.20px;transform:translateX(-50%);top:389.71px;font-size:4.9px;color:#d4aa3c;">Shipping</div>
<div class="a" style="left:359.20px;transform:translateX(-50%);top:388.49px;font-size:5.8px;color:#3a3a42;-webkit-text-stroke:0.15px #3a3a42;">2 items</div>
<div class="a" style="left:416.50px;transform:translateX(-50%);top:388.49px;font-size:5.8px;color:#3a3a42;-webkit-text-stroke:0.15px #3a3a42;">$178</div>
<div class="a" style="left:128.80px;top:406.39px;font-size:5.6px;color:#3a3a42;-webkit-text-stroke:0.15px #3a3a42;">#1234</div>
<div class="a" style="left:159.20px;top:406.39px;font-size:5.8px;color:#3a3a42;-webkit-text-stroke:0.15px #3a3a42;">Lasso SprintRunner</div>
<div class="a" style="left:216.60px;top:406.39px;font-size:5.8px;color:#3a3a42;-webkit-text-stroke:0.15px #3a3a42;">24 May</div>
<div class="a" style="left:266.20px;transform:translateX(-50%);top:406.39px;font-size:5.8px;color:#3a3a42;-webkit-text-stroke:0.15px #3a3a42;">$89</div>
<div class="a" style="left:293.4px;top:404.5px;width:27.6px;height:8px;background:#dcf7d4;border-radius:4px;"></div>
<div class="a" style="left:307.20px;transform:translateX(-50%);top:407.61px;font-size:4.9px;color:#4a9c44;">Received</div>
<div class="a" style="left:359.20px;transform:translateX(-50%);top:406.39px;font-size:5.8px;color:#3a3a42;-webkit-text-stroke:0.15px #3a3a42;">2 items</div>
<div class="a" style="left:416.50px;transform:translateX(-50%);top:406.39px;font-size:5.8px;color:#3a3a42;-webkit-text-stroke:0.15px #3a3a42;">$178</div>
<div class="a" style="left:96px;top:442.2px;width:504px;height:334.6px;background:#f0f3f8;border-radius:0px;"></div>
<div class="a" style="left:96px;top:776.8px;width:504px;height:1.5px;background:#f5f6f9;border-radius:0px;"></div>
<div class="a" style="left:1px;top:441.9px;width:93.4px;height:336.2px;background:#062470;border-radius:2px;border:0.7px solid #03185c"></div>
<div class="a" style="left:1.7px;top:510.3px;width:91.9px;height:15.6px;background:#17367f;border-radius:0px;"></div>
<div class="a" style="left:1.4px;top:510.3px;width:1.6px;height:15.6px;background:#3f7df2;border-radius:0px;"></div>
<div class="a" style="left:23.00px;top:496.91px;font-size:5.3px;color:#ffffff;-webkit-text-stroke:0.22px #ffffff;">Contacts</div>
<div class="a" style="left:23.00px;top:516.31px;font-size:5.3px;color:#ffffff;-webkit-text-stroke:0.22px #ffffff;">People</div>
<div class="a" style="left:23.00px;top:534.51px;font-size:5.3px;color:#ffffff;-webkit-text-stroke:0.22px #ffffff;">Timesheets</div>
<div class="a" style="left:23.00px;top:552.61px;font-size:5.3px;color:#ffffff;-webkit-text-stroke:0.22px #ffffff;">Banking</div>
<div class="a" style="left:23.00px;top:570.71px;font-size:5.3px;color:#ffffff;-webkit-text-stroke:0.22px #ffffff;">Reimbursements</div>
<div class="a" style="left:23.00px;top:588.91px;font-size:5.3px;color:#ffffff;-webkit-text-stroke:0.22px #ffffff;">Contracts</div>
<div class="a" style="left:23.00px;top:728.51px;font-size:5.3px;color:#ffffff;-webkit-text-stroke:0.22px #ffffff;">Settings</div>
<div class="a" style="left:23.00px;top:746.51px;font-size:5.3px;color:#ffffff;-webkit-text-stroke:0.22px #ffffff;">Log out</div>
<div class="a" style="left:12.40px;top:765.11px;font-size:4.6px;color:#d5dbef;">&#169; 2021 - Spevio</div>
<svg class="s" style="left:11.8px;top:495.2px;" width="7.4" height="7.2" viewBox="0 0 7.4 7.2"><g fill="none" stroke="#fff" stroke-width="0.8" stroke-linecap="round" stroke-linejoin="round"><rect x="0.5" y="0.5" width="6.4" height="6.2" rx="2"/><path d="M0.6 3.4h6.2M2.6 4.9h2.2"/></g></svg>
<svg class="s" style="left:12.2px;top:514.2px;" width="7" height="8" viewBox="0 0 7 8"><circle cx="3.5" cy="2" r="1.9" fill="#fff"/><path d="M0 7.6c0-2.3 1.5-3.3 3.5-3.3S7 5.3 7 7.6z" fill="#fff"/></svg>
<svg class="s" style="left:11.8px;top:532.6px;" width="7.4" height="7.4" viewBox="0 0 7.4 7.4"><g fill="none" stroke="#fff" stroke-width="0.8" stroke-linecap="round" stroke-linejoin="round"><rect x="0.5" y="0.5" width="6.4" height="6.4" rx="1.6"/><path d="M3.7 2v1.9h1.6"/></g></svg>
<svg class="s" style="left:12.6px;top:550.6px;" width="6" height="8.4" viewBox="0 0 6 8.4"><text x="3" y="7.6" font-size="9" font-family="Liberation Sans" fill="#fff" text-anchor="middle">$</text></svg>
<svg class="s" style="left:11.3px;top:568.6px;" width="8.4" height="8.4" viewBox="0 0 8.4 8.4"><g fill="none" stroke="#fff" stroke-width="0.8" stroke-linecap="round" stroke-linejoin="round"><path d="M0.9 4.8A3.4 3.4 0 0 1 6.6 1.8M7.5 3.6A3.4 3.4 0 0 1 1.8 6.6"/><path d="M5.4 1.2l1.3 0.6-0.4 1.3M3 7.2l-1.3-0.6 0.4-1.3"/></g><text x="4.2" y="6" font-size="5" font-family="Liberation Sans" font-weight="bold" fill="#fff" text-anchor="middle">$</text></svg>
<svg class="s" style="left:11.8px;top:587px;" width="7.4" height="7.6" viewBox="0 0 7.4 7.6"><g fill="none" stroke="#fff" stroke-width="0.8" stroke-linecap="round" stroke-linejoin="round"><rect x="0.5" y="0.5" width="6.4" height="6.6" rx="1.6"/><path d="M3.7 2v3.6M2.5 3h2.2"/></g></svg>
<svg class="s" style="left:11.8px;top:726.6px;" width="7.6" height="7.6" viewBox="0 0 7.6 7.6"><g fill="none" stroke="#fff" stroke-width="0.8" stroke-linecap="round" stroke-linejoin="round"><path d="M3.8 0.5l3 1.7v3.4l-3 1.7-3-1.7V2.2z"/><circle cx="3.8" cy="3.9" r="1.1"/></g></svg>
<svg class="s" style="left:11.8px;top:744.6px;" width="7.6" height="7.6" viewBox="0 0 7.6 7.6"><g fill="none" stroke="#fff" stroke-width="0.8" stroke-linecap="round" stroke-linejoin="round"><path d="M4.6 1.6V1.4a0.9 0.9 0 0 0-0.9-0.9H1.4a0.9 0.9 0 0 0-0.9 0.9v4.8a0.9 0.9 0 0 0 0.9 0.9h2.3a0.9 0.9 0 0 0 0.9-0.9V6"/><path d="M3 3.8h4.3M6 2.6l1.3 1.2L6 5"/></g></svg>
<div class="a" style="left:107.3px;top:458px;width:3.7px;height:1px;background:#3a3a44;border-radius:0px;"></div>
<div class="a" style="left:107.3px;top:460px;width:7px;height:1px;background:#3a3a44;border-radius:0px;"></div>
<div class="a" style="left:107.3px;top:462px;width:7px;height:1px;background:#3a3a44;border-radius:0px;"></div>
<div class="a" style="left:105.00px;top:484.65px;font-size:8.6px;color:#1f1f28;font-weight:bold;">People</div>
<div class="a" style="left:485.00px;top:458.89px;font-size:5.2px;color:#22222a;-webkit-text-stroke:0.2px #22222a;">Eng</div>
<svg class="s" style="left:497.9px;top:455.8px;" width="10" height="10" viewBox="0 0 10 10"><defs><clipPath id="fl"><circle cx="5" cy="5" r="5"/></clipPath></defs><g clip-path="url(#fl)"><rect width="10" height="10" fill="#1f3e8c"/><path d="M0 0L10 10M10 0L0 10" stroke="#fff" stroke-width="2"/><path d="M0 0L10 10M10 0L0 10" stroke="#d8243a" stroke-width="0.8"/><path d="M5 0v10M0 5h10" stroke="#fff" stroke-width="3"/><path d="M5 0v10M0 5h10" stroke="#d8243a" stroke-width="1.9"/></g></svg>
<svg class="s" style="left:510.6px;top:459.2px;" width="4" height="2.4" viewBox="0 0 4 2.4"><path d="M0.4 0.4L2 2 3.6 0.4" fill="none" stroke="#444" stroke-width="0.7" stroke-linecap="round"/></svg>
<svg class="s" style="left:530px;top:456.6px;" width="6.6" height="8" viewBox="0 0 6.6 8"><g fill="none" stroke="#333" stroke-width="0.75" stroke-linejoin="round"><path d="M0.6 5.7h5.4c-0.8-0.7-0.9-1.4-0.9-2.5a1.8 1.8 0 0 0-3.6 0c0 1.1-0.1 1.8-0.9 2.5z"/><path d="M2.5 6.8a0.8 0.8 0 0 0 1.6 0"/></g></svg>
<div class="a" style="left:552.40px;top:458.91px;font-size:5.0px;color:#22222a;-webkit-text-stroke:0.2px #22222a;">A Ijaz</div>
<svg class="s" style="left:568.1px;top:451.7px;" width="17.2" height="17.2" viewBox="0 0 17.2 17.2"><defs><clipPath id="av2"><circle cx="8.6" cy="8.6" r="8"/></clipPath></defs><circle cx="8.6" cy="8.6" r="8.6" fill="#fff"/><g clip-path="url(#av2)"><rect width="17.2" height="17.2" fill="#211d1b"/><path d="M2.4 17.2c0.6-3.2 3-4.2 6.2-4.2s5.6 1 6.2 4.2z" fill="#a3b0c6"/><rect x="7.4" y="10.6" width="2.4" height="2.8" fill="#c08c6e"/><ellipse cx="8.6" cy="8.4" rx="3.3" ry="3.9" fill="#cf9d7e"/><path d="M5.2 7.8c-0.3-2.8 1.3-4.3 3.4-4.3s3.7 1.4 3.4 4.3c-0.7-1.4-1.8-2-3.4-2s-2.7 0.6-3.4 2z" fill="#141210"/><path d="M6 8.2h1.6M9.6 8.2h1.6" stroke="#222" stroke-width="0.5"/><path d="M7 10.2c0.9 0.6 2.3 0.6 3.2 0" stroke="#fff" stroke-width="0.5" fill="none"/></g></svg>
<svg class="s" style="left:587px;top:459.2px;" width="4" height="2.4" viewBox="0 0 4 2.4"><path d="M0.4 0.4L2 2 3.6 0.4" fill="none" stroke="#444" stroke-width="0.7" stroke-linecap="round"/></svg>
<div class="a" style="left:466.5px;top:481.5px;width:123.5px;height:14px;background:#fff;border-radius:2.5px;"></div>
<div class="a" style="left:471.20px;top:487.51px;font-size:4.6px;color:#6a6a74;">Search</div>
<svg class="s" style="left:579px;top:484.6px;" width="7" height="7" viewBox="0 0 7 7"><circle cx="3" cy="3" r="2.6" fill="none" stroke="#3a3a42" stroke-width="0.65"/><path d="M4.9 4.9l1.6 1.6" stroke="#3a3a42" stroke-width="0.65"/></svg>
<div class="a" style="left:104px;top:503.2px;width:487px;height:265.3px;background:#fff;border-radius:3px;"></div>
<div class="a" style="left:112.00px;top:512.59px;font-size:5.8px;color:#3a6cc9;-webkit-text-stroke:0.15px #3a6cc9;">Employee</div>
<div class="a" style="left:145.30px;top:512.59px;font-size:5.8px;color:#2b2b33;-webkit-text-stroke:0.15px #2b2b33;">Departments</div>
<div class="a" style="left:186.70px;top:512.59px;font-size:5.8px;color:#2b2b33;-webkit-text-stroke:0.15px #2b2b33;">Divisions</div>
<div class="a" style="left:216.80px;top:512.59px;font-size:5.8px;color:#2b2b33;-webkit-text-stroke:0.15px #2b2b33;">Locations</div>
<div class="a" style="left:104px;top:525.3px;width:487px;height:0.6px;background:#eef0f4;border-radius:0px;"></div>
<div class="a" style="left:112px;top:524.8px;width:26px;height:1.1px;background:#3a6cc9;border-radius:0px;"></div>
<div class="a" style="left:482.1px;top:507.6px;width:40.4px;height:14px;border:1px solid #eceef2;border-radius:2.5px;background:#fff"></div>
<svg class="s" style="left:488.2px;top:511.3px;" width="6.4" height="6.8" viewBox="0 0 6.4 6.8"><path d="M0.4 0.5h5.6L3.9 3.3v2.9l-1.4-0.8V3.3z" fill="none" stroke="#2a2a30" stroke-width="0.65" stroke-linejoin="round"/></svg>
<div class="a" style="left:497.30px;top:513.54px;font-size:4.95px;color:#2b2b33;font-weight:bold;">Filter by</div>
<div class="a" style="left:526.9px;top:507.3px;width:55.9px;height:14.3px;background:#f8c545;border-radius:2.5px;"></div>
<svg class="s" style="left:532.9px;top:511.4px;" width="6.4" height="6.4" viewBox="0 0 6.4 6.4"><rect x="0.4" y="0.4" width="5.6" height="5.6" rx="1.3" fill="none" stroke="#222" stroke-width="0.6"/><path d="M3.2 1.9v2.6M1.9 3.2h2.6" stroke="#222" stroke-width="0.6"/></svg>
<div class="a" style="left:542.70px;top:513.44px;font-size:4.95px;color:#1f1f26;font-weight:bold;">Add employee</div>
<div class="a" style="left:112.80px;top:538.10px;font-size:3.8px;color:#4e4e58;letter-spacing:0.3px">NAME</div>
<div class="a" style="left:187.50px;top:538.10px;font-size:3.8px;color:#4e4e58;letter-spacing:0.3px">TITLE</div>
<div class="a" style="left:245.30px;top:538.10px;font-size:3.8px;color:#4e4e58;letter-spacing:0.3px">PHONE NO.</div>
<div class="a" style="left:302.60px;top:538.10px;font-size:3.8px;color:#4e4e58;letter-spacing:0.3px">WORK EMAIL</div>
<div class="a" style="left:375.00px;top:538.10px;font-size:3.8px;color:#4e4e58;letter-spacing:0.3px">DEPARTMENT</div>
<div class="a" style="left:463.80px;top:538.10px;font-size:3.8px;color:#4e4e58;letter-spacing:0.3px">DIVISION</div>
<div class="a" style="left:552.00px;top:538.10px;font-size:3.8px;color:#4e4e58;letter-spacing:0.3px">LOCATION</div>
<div class="a" style="left:104px;top:545.8px;width:487px;height:21.7px;background:#eef1f6;border-radius:0px;"></div>
<svg class="s" style="left:112.6px;top:549.1px;" width="15.2" height="15.2" viewBox="0 0 15.2 15.2"><defs><clipPath id="pa0"><circle cx="7.6" cy="7.6" r="7.199999999999999"/></clipPath></defs><circle cx="7.6" cy="7.6" r="7.6" fill="#e4e6ec"/><g clip-path="url(#pa0)"><rect width="15.2" height="15.2" fill="#c3c5cc"/><path d="M1.8 15.2C2.4 11.8 4.6 10.8 7.6 10.8S12.8 11.8 13.4 15.2z" fill="#2e2e34"/><rect x="6.3" y="9.0" width="2.6" height="2.4" fill="#cfae9c"/><ellipse cx="7.6" cy="7.3" rx="3.1" ry="3.7" fill="#cfae9c"/><path d="M4.2 7.6C3.9 4.2 5.4 2.4 7.8 2.4S11.4 4.0 11.0 7.6C10.5 5.8 9.4 5.1 7.7 5.1S4.8 5.8 4.2 7.6z" fill="#2a2626"/><path d="M6.2 8.3h0.8M8.2 8.3h0.8" stroke="#3a2a24" stroke-width="0.5" opacity="0.6"/></g></svg>
<div class="a" style="left:130.40px;top:555.81px;font-size:4.9px;color:#1e1e26;-webkit-text-stroke:0.1px #1e1e26;letter-spacing:0.05px">Ahsan Ijaz</div>
<div class="a" style="left:187.40px;top:555.81px;font-size:4.9px;color:#1e1e26;-webkit-text-stroke:0.1px #1e1e26;letter-spacing:0.05px">CEO</div>
<div class="a" style="left:245.30px;top:554.81px;font-size:5.0px;color:#1e1e26;-webkit-text-stroke:0.1px #1e1e26;letter-spacing:0.15px">703-622-8890</div>
<div class="a" style="left:302.60px;top:554.81px;font-size:5.0px;color:#1e1e26;-webkit-text-stroke:0.1px #1e1e26;letter-spacing:0.05px">aijaz@gmail.com</div>
<div class="a" style="left:375.00px;top:554.81px;font-size:5.0px;color:#1e1e26;-webkit-text-stroke:0.1px #1e1e26;letter-spacing:0.05px">Go team</div>
<div class="a" style="left:463.80px;top:555.81px;font-size:4.9px;color:#1e1e26;-webkit-text-stroke:0.1px #1e1e26;letter-spacing:0.05px">Leadership</div>
<div class="a" style="left:552.00px;top:555.81px;font-size:4.9px;color:#1e1e26;-webkit-text-stroke:0.1px #1e1e26;letter-spacing:0.05px">Metro DC</div>
<svg class="s" style="left:112.6px;top:571.6px;" width="15.2" height="15.2" viewBox="0 0 15.2 15.2"><defs><clipPath id="pa1"><circle cx="7.6" cy="7.6" r="7.199999999999999"/></clipPath></defs><circle cx="7.6" cy="7.6" r="7.6" fill="#e4e6ec"/><g clip-path="url(#pa1)"><rect width="15.2" height="15.2" fill="#e8c42a"/><path d="M1.8 15.2C2.4 11.8 4.6 10.8 7.6 10.8S12.8 11.8 13.4 15.2z" fill="#121212"/><rect x="6.3" y="9.0" width="2.6" height="2.4" fill="#b07a5e"/><ellipse cx="7.6" cy="7.3" rx="3.1" ry="3.7" fill="#b07a5e"/><path d="M4.2 7.6C3.9 4.2 5.4 2.4 7.8 2.4S11.4 4.0 11.0 7.6C10.5 5.8 9.4 5.1 7.7 5.1S4.8 5.8 4.2 7.6z" fill="#141414"/><path d="M6.2 8.3h0.8M8.2 8.3h0.8" stroke="#3a2a24" stroke-width="0.5" opacity="0.6"/></g></svg>
<div class="a" style="left:130.40px;top:578.31px;font-size:4.9px;color:#1e1e26;-webkit-text-stroke:0.1px #1e1e26;letter-spacing:0.05px">Amna Yousaf</div>
<div class="a" style="left:187.40px;top:578.31px;font-size:4.9px;color:#1e1e26;-webkit-text-stroke:0.1px #1e1e26;letter-spacing:0.05px">COO</div>
<div class="a" style="left:245.30px;top:577.31px;font-size:5.0px;color:#1e1e26;-webkit-text-stroke:0.1px #1e1e26;letter-spacing:0.15px">703-622-8890</div>
<div class="a" style="left:302.60px;top:577.31px;font-size:5.0px;color:#1e1e26;-webkit-text-stroke:0.1px #1e1e26;letter-spacing:0.05px">ayousaf@gmail.com</div>
<div class="a" style="left:375.00px;top:577.31px;font-size:5.0px;color:#1e1e26;-webkit-text-stroke:0.1px #1e1e26;letter-spacing:0.05px">Go team</div>
<div class="a" style="left:463.80px;top:578.31px;font-size:4.9px;color:#1e1e26;-webkit-text-stroke:0.1px #1e1e26;letter-spacing:0.05px">Leadership</div>
<div class="a" style="left:552.00px;top:578.31px;font-size:4.9px;color:#1e1e26;-webkit-text-stroke:0.1px #1e1e26;letter-spacing:0.05px">Metro DC</div>
<div class="a" style="left:104px;top:590.3000000000001px;width:487px;height:0.6px;background:#eef0f3;border-radius:0px;"></div>
<svg class="s" style="left:112.6px;top:594.1px;" width="15.2" height="15.2" viewBox="0 0 15.2 15.2"><defs><clipPath id="pa2"><circle cx="7.6" cy="7.6" r="7.199999999999999"/></clipPath></defs><circle cx="7.6" cy="7.6" r="7.6" fill="#e4e6ec"/><g clip-path="url(#pa2)"><rect width="15.2" height="15.2" fill="#3a2c20"/><path d="M1.8 15.2C2.4 11.8 4.6 10.8 7.6 10.8S12.8 11.8 13.4 15.2z" fill="#f2f2f2"/><rect x="6.3" y="9.0" width="2.6" height="2.4" fill="#d2a07e"/><ellipse cx="7.6" cy="7.3" rx="3.1" ry="3.7" fill="#d2a07e"/><path d="M4.2 7.6C3.9 4.2 5.4 2.4 7.8 2.4S11.4 4.0 11.0 7.6C10.5 5.8 9.4 5.1 7.7 5.1S4.8 5.8 4.2 7.6z" fill="#2a1e14"/><path d="M6.2 8.3h0.8M8.2 8.3h0.8" stroke="#3a2a24" stroke-width="0.5" opacity="0.6"/></g></svg>
<div class="a" style="left:130.40px;top:600.81px;font-size:4.9px;color:#1e1e26;-webkit-text-stroke:0.1px #1e1e26;letter-spacing:0.05px">Enrique Gonzalez</div>
<div class="a" style="left:187.40px;top:600.81px;font-size:4.9px;color:#1e1e26;-webkit-text-stroke:0.1px #1e1e26;letter-spacing:0.05px">Senior consultant</div>
<div class="a" style="left:245.30px;top:599.81px;font-size:5.0px;color:#1e1e26;-webkit-text-stroke:0.1px #1e1e26;letter-spacing:0.15px">703-622-8890</div>
<div class="a" style="left:302.60px;top:599.81px;font-size:5.0px;color:#1e1e26;-webkit-text-stroke:0.1px #1e1e26;letter-spacing:0.05px">egonzalez@gmail.com</div>
<div class="a" style="left:375.00px;top:599.81px;font-size:5.0px;color:#1e1e26;-webkit-text-stroke:0.1px #1e1e26;letter-spacing:0.05px">Finance &amp; accounting solutions</div>
<div class="a" style="left:463.80px;top:600.81px;font-size:4.9px;color:#1e1e26;-webkit-text-stroke:0.1px #1e1e26;letter-spacing:0.05px">Client accounting team</div>
<div class="a" style="left:552.00px;top:600.81px;font-size:4.9px;color:#1e1e26;-webkit-text-stroke:0.1px #1e1e26;letter-spacing:0.05px">Metro DC</div>
<div class="a" style="left:104px;top:612.8000000000001px;width:487px;height:0.6px;background:#eef0f3;border-radius:0px;"></div>
<svg class="s" style="left:112.6px;top:616.6px;" width="15.2" height="15.2" viewBox="0 0 15.2 15.2"><defs><clipPath id="pa3"><circle cx="7.6" cy="7.6" r="7.199999999999999"/></clipPath></defs><circle cx="7.6" cy="7.6" r="7.6" fill="#e4e6ec"/><g clip-path="url(#pa3)"><rect width="15.2" height="15.2" fill="#e9e9ec"/><path d="M3.6 15.2C3.2 9.0 3.4 3.2 7.6 3.0S12.0 9.0 11.6 15.2z" fill="#111111"/><path d="M1.8 15.2C2.4 11.8 4.6 10.8 7.6 10.8S12.8 11.8 13.4 15.2z" fill="#151515"/><rect x="6.3" y="9.0" width="2.6" height="2.4" fill="#e4c2aa"/><ellipse cx="7.6" cy="7.3" rx="3.1" ry="3.7" fill="#e4c2aa"/><path d="M4.4 6.6C4.6 4.0 6.0 3.2 7.8 3.2S10.8 4.2 10.8 6.4C9.6 5.2 7.0 5.0 4.4 6.6z" fill="#111111"/><path d="M6.2 8.3h0.8M8.2 8.3h0.8" stroke="#3a2a24" stroke-width="0.5" opacity="0.6"/></g></svg>
<div class="a" style="left:130.40px;top:623.31px;font-size:4.9px;color:#1e1e26;-webkit-text-stroke:0.1px #1e1e26;letter-spacing:0.05px">Jessica Falcon</div>
<div class="a" style="left:187.40px;top:623.31px;font-size:4.9px;color:#1e1e26;-webkit-text-stroke:0.1px #1e1e26;letter-spacing:0.05px">Consultant</div>
<div class="a" style="left:245.30px;top:622.31px;font-size:5.0px;color:#1e1e26;-webkit-text-stroke:0.1px #1e1e26;letter-spacing:0.15px">703-622-8890</div>
<div class="a" style="left:302.60px;top:622.31px;font-size:5.0px;color:#1e1e26;-webkit-text-stroke:0.1px #1e1e26;letter-spacing:0.05px">jfalcon@gmail.com</div>
<div class="a" style="left:375.00px;top:622.31px;font-size:5.0px;color:#1e1e26;-webkit-text-stroke:0.1px #1e1e26;letter-spacing:0.05px">Finance &amp; accounting solutions</div>
<div class="a" style="left:463.80px;top:623.31px;font-size:4.9px;color:#1e1e26;-webkit-text-stroke:0.1px #1e1e26;letter-spacing:0.05px">Client accounting team</div>
<div class="a" style="left:552.00px;top:623.31px;font-size:4.9px;color:#1e1e26;-webkit-text-stroke:0.1px #1e1e26;letter-spacing:0.05px">Metro DC</div>
<div class="a" style="left:104px;top:635.3000000000001px;width:487px;height:0.6px;background:#eef0f3;border-radius:0px;"></div>
<svg class="s" style="left:112.6px;top:639.1px;" width="15.2" height="15.2" viewBox="0 0 15.2 15.2"><defs><clipPath id="pa4"><circle cx="7.6" cy="7.6" r="7.199999999999999"/></clipPath></defs><circle cx="7.6" cy="7.6" r="7.6" fill="#e4e6ec"/><g clip-path="url(#pa4)"><rect width="15.2" height="15.2" fill="#8c7a3c"/><path d="M1.8 15.2C2.4 11.8 4.6 10.8 7.6 10.8S12.8 11.8 13.4 15.2z" fill="#2c5c50"/><rect x="6.3" y="9.0" width="2.6" height="2.4" fill="#c49474"/><ellipse cx="7.6" cy="7.3" rx="3.1" ry="3.7" fill="#c49474"/><path d="M4.2 7.6C3.9 4.2 5.4 2.4 7.8 2.4S11.4 4.0 11.0 7.6C10.5 5.8 9.4 5.1 7.7 5.1S4.8 5.8 4.2 7.6z" fill="#2a2216"/><path d="M6.2 8.3h0.8M8.2 8.3h0.8" stroke="#3a2a24" stroke-width="0.5" opacity="0.6"/></g></svg>
<div class="a" style="left:130.40px;top:645.81px;font-size:4.9px;color:#1e1e26;-webkit-text-stroke:0.1px #1e1e26;letter-spacing:0.05px">Mujtaba Jafri</div>
<div class="a" style="left:187.40px;top:645.81px;font-size:4.9px;color:#1e1e26;-webkit-text-stroke:0.1px #1e1e26;letter-spacing:0.05px">Project management</div>
<div class="a" style="left:245.30px;top:644.81px;font-size:5.0px;color:#1e1e26;-webkit-text-stroke:0.1px #1e1e26;letter-spacing:0.15px">703-622-8890</div>
<div class="a" style="left:302.60px;top:644.81px;font-size:5.0px;color:#1e1e26;-webkit-text-stroke:0.1px #1e1e26;letter-spacing:0.05px">mjafri@gmail.com</div>
<div class="a" style="left:375.00px;top:644.81px;font-size:5.0px;color:#1e1e26;-webkit-text-stroke:0.1px #1e1e26;letter-spacing:0.05px">Finance &amp; accounting solutions</div>
<div class="a" style="left:463.80px;top:645.81px;font-size:4.9px;color:#1e1e26;-webkit-text-stroke:0.1px #1e1e26;letter-spacing:0.05px">Project management</div>
<div class="a" style="left:552.00px;top:645.81px;font-size:4.9px;color:#1e1e26;-webkit-text-stroke:0.1px #1e1e26;letter-spacing:0.05px">Metro DC</div>
<div class="a" style="left:104px;top:657.8000000000001px;width:487px;height:0.6px;background:#eef0f3;border-radius:0px;"></div>
<svg class="s" style="left:112.6px;top:661.6px;" width="15.2" height="15.2" viewBox="0 0 15.2 15.2"><defs><clipPath id="pa5"><circle cx="7.6" cy="7.6" r="7.199999999999999"/></clipPath></defs><circle cx="7.6" cy="7.6" r="7.6" fill="#e4e6ec"/><g clip-path="url(#pa5)"><rect width="15.2" height="15.2" fill="#f2a8a8"/><path d="M1.8 15.2C2.4 11.8 4.6 10.8 7.6 10.8S12.8 11.8 13.4 15.2z" fill="#2e2a44"/><rect x="6.3" y="9.0" width="2.6" height="2.4" fill="#d8a68a"/><ellipse cx="7.6" cy="7.3" rx="3.1" ry="3.7" fill="#d8a68a"/><path d="M4.2 7.6C3.9 4.2 5.4 2.4 7.8 2.4S11.4 4.0 11.0 7.6C10.5 5.8 9.4 5.1 7.7 5.1S4.8 5.8 4.2 7.6z" fill="#2a1c18"/><path d="M6.2 8.3h0.8M8.2 8.3h0.8" stroke="#3a2a24" stroke-width="0.5" opacity="0.6"/></g></svg>
<div class="a" style="left:130.40px;top:668.31px;font-size:4.9px;color:#1e1e26;-webkit-text-stroke:0.1px #1e1e26;letter-spacing:0.05px">Sadia Arshad</div>
<div class="a" style="left:187.40px;top:668.31px;font-size:4.9px;color:#1e1e26;-webkit-text-stroke:0.1px #1e1e26;letter-spacing:0.05px">Deputy COO</div>
<div class="a" style="left:245.30px;top:667.31px;font-size:5.0px;color:#1e1e26;-webkit-text-stroke:0.1px #1e1e26;letter-spacing:0.15px">703-622-8890</div>
<div class="a" style="left:302.60px;top:667.31px;font-size:5.0px;color:#1e1e26;-webkit-text-stroke:0.1px #1e1e26;letter-spacing:0.05px">sarshad@gmail.com</div>
<div class="a" style="left:375.00px;top:667.31px;font-size:5.0px;color:#1e1e26;-webkit-text-stroke:0.1px #1e1e26;letter-spacing:0.05px">Finance &amp; accounting solutions</div>
<div class="a" style="left:463.80px;top:668.31px;font-size:4.9px;color:#1e1e26;-webkit-text-stroke:0.1px #1e1e26;letter-spacing:0.05px">Leadership</div>
<div class="a" style="left:552.00px;top:667.31px;font-size:5.3px;color:#6e737e;-webkit-text-stroke:0.3px #6e737e;filter:blur(1.5px)">Lahore, PK</div>
<div class="a" style="left:104px;top:680.3000000000001px;width:444px;height:0.6px;background:#eef0f3;border-radius:0px;"></div>
<svg class="s" style="left:112.6px;top:684.1px;" width="15.2" height="15.2" viewBox="0 0 15.2 15.2"><defs><clipPath id="pa6"><circle cx="7.6" cy="7.6" r="7.199999999999999"/></clipPath></defs><circle cx="7.6" cy="7.6" r="7.6" fill="#e4e6ec"/><g clip-path="url(#pa6)"><rect width="15.2" height="15.2" fill="#d3dbe6"/><path d="M1.8 15.2C2.4 11.8 4.6 10.8 7.6 10.8S12.8 11.8 13.4 15.2z" fill="#2a2a30"/><rect x="6.3" y="9.0" width="2.6" height="2.4" fill="#e0b8a0"/><ellipse cx="7.6" cy="7.3" rx="3.1" ry="3.7" fill="#e0b8a0"/><path d="M4.2 7.6C3.9 4.2 5.4 2.4 7.8 2.4S11.4 4.0 11.0 7.6C10.5 5.8 9.4 5.1 7.7 5.1S4.8 5.8 4.2 7.6z" fill="#24242a"/><path d="M6.2 8.3h0.8M8.2 8.3h0.8" stroke="#3a2a24" stroke-width="0.5" opacity="0.6"/></g></svg>
<div class="a" style="left:130.40px;top:690.81px;font-size:4.9px;color:#1e1e26;-webkit-text-stroke:0.1px #1e1e26;letter-spacing:0.05px">Zuhaib Khan</div>
<div class="a" style="left:187.40px;top:690.81px;font-size:4.9px;color:#1e1e26;-webkit-text-stroke:0.1px #1e1e26;letter-spacing:0.05px">BD associate</div>
<div class="a" style="left:245.30px;top:689.81px;font-size:5.0px;color:#1e1e26;-webkit-text-stroke:0.1px #1e1e26;letter-spacing:0.15px">703-622-8890</div>
<div class="a" style="left:302.60px;top:689.81px;font-size:5.0px;color:#1e1e26;-webkit-text-stroke:0.1px #1e1e26;letter-spacing:0.05px">zkhan@gmail.com</div>
<div class="a" style="left:375.00px;top:689.81px;font-size:5.0px;color:#1e1e26;-webkit-text-stroke:0.1px #1e1e26;letter-spacing:0.05px">Finance &amp; accounting solutions</div>
<div class="a" style="left:463.80px;top:690.81px;font-size:4.9px;color:#1e1e26;-webkit-text-stroke:0.1px #1e1e26;letter-spacing:0.05px">Business development</div>
<div class="a" style="left:552.00px;top:689.81px;font-size:5.3px;color:#6e737e;-webkit-text-stroke:0.3px #6e737e;filter:blur(1.5px)">Lahore, PK</div>
<div class="a" style="left:104px;top:702.8000000000001px;width:444px;height:0.6px;background:#eef0f3;border-radius:0px;"></div>
<svg class="s" style="left:112.6px;top:706.6px;" width="15.2" height="15.2" viewBox="0 0 15.2 15.2"><defs><clipPath id="pa7"><circle cx="7.6" cy="7.6" r="7.199999999999999"/></clipPath></defs><circle cx="7.6" cy="7.6" r="7.6" fill="#e4e6ec"/><g clip-path="url(#pa7)"><rect width="15.2" height="15.2" fill="#b3a49a"/><path d="M1.8 15.2C2.4 11.8 4.6 10.8 7.6 10.8S12.8 11.8 13.4 15.2z" fill="#3c2c26"/><rect x="6.3" y="9.0" width="2.6" height="2.4" fill="#cf9c80"/><ellipse cx="7.6" cy="7.3" rx="3.1" ry="3.7" fill="#cf9c80"/><path d="M4.2 7.6C3.9 4.2 5.4 2.4 7.8 2.4S11.4 4.0 11.0 7.6C10.5 5.8 9.4 5.1 7.7 5.1S4.8 5.8 4.2 7.6z" fill="#6a4530"/><path d="M6.2 8.3h0.8M8.2 8.3h0.8" stroke="#3a2a24" stroke-width="0.5" opacity="0.6"/></g></svg>
<div class="a" style="left:130.40px;top:713.31px;font-size:4.9px;color:#1e1e26;-webkit-text-stroke:0.1px #1e1e26;letter-spacing:0.05px">Zunaira Javaid</div>
<div class="a" style="left:187.40px;top:713.31px;font-size:4.9px;color:#1e1e26;-webkit-text-stroke:0.1px #1e1e26;letter-spacing:0.05px">HR associate</div>
<div class="a" style="left:245.30px;top:712.31px;font-size:5.0px;color:#1e1e26;-webkit-text-stroke:0.1px #1e1e26;letter-spacing:0.15px">703-622-8890</div>
<div class="a" style="left:302.60px;top:712.31px;font-size:5.0px;color:#1e1e26;-webkit-text-stroke:0.1px #1e1e26;letter-spacing:0.05px">zjavaid@gmail.com</div>
<div class="a" style="left:375.00px;top:712.31px;font-size:5.0px;color:#1e1e26;-webkit-text-stroke:0.1px #1e1e26;letter-spacing:0.05px">Go team</div>
<div class="a" style="left:463.80px;top:713.31px;font-size:4.9px;color:#1e1e26;-webkit-text-stroke:0.1px #1e1e26;letter-spacing:0.05px">People operations</div>
<div class="a" style="left:552.00px;top:712.31px;font-size:5.3px;color:#6e737e;-webkit-text-stroke:0.3px #6e737e;filter:blur(1.5px)">Lahore, PK</div>
<div class="a" style="left:104px;top:725.3000000000001px;width:444px;height:0.6px;background:#eef0f3;border-radius:0px;"></div>
<svg class="s" style="left:112.6px;top:729.1px;" width="15.2" height="15.2" viewBox="0 0 15.2 15.2"><defs><clipPath id="pa8"><circle cx="7.6" cy="7.6" r="7.199999999999999"/></clipPath></defs><circle cx="7.6" cy="7.6" r="7.6" fill="#e4e6ec"/><g clip-path="url(#pa8)"><rect width="15.2" height="15.2" fill="#3c2c1c"/><path d="M1.8 15.2C2.4 11.8 4.6 10.8 7.6 10.8S12.8 11.8 13.4 15.2z" fill="#ece6dc"/><rect x="6.3" y="9.0" width="2.6" height="2.4" fill="#d6a888"/><ellipse cx="7.6" cy="7.3" rx="3.1" ry="3.7" fill="#d6a888"/><path d="M4.2 7.6C3.9 4.2 5.4 2.4 7.8 2.4S11.4 4.0 11.0 7.6C10.5 5.8 9.4 5.1 7.7 5.1S4.8 5.8 4.2 7.6z" fill="#d8b888"/><path d="M6.2 8.3h0.8M8.2 8.3h0.8" stroke="#3a2a24" stroke-width="0.5" opacity="0.6"/></g></svg>
<div class="a" style="left:130.40px;top:735.81px;font-size:4.9px;color:#1e1e26;-webkit-text-stroke:0.1px #1e1e26;letter-spacing:0.05px">Rupam Roy</div>
<div class="a" style="left:187.40px;top:735.81px;font-size:4.9px;color:#1e1e26;-webkit-text-stroke:0.1px #1e1e26;letter-spacing:0.05px">BD associate</div>
<div class="a" style="left:245.30px;top:734.81px;font-size:5.0px;color:#1e1e26;-webkit-text-stroke:0.1px #1e1e26;letter-spacing:0.15px">703-622-8890</div>
<div class="a" style="left:302.60px;top:734.81px;font-size:5.0px;color:#1e1e26;-webkit-text-stroke:0.1px #1e1e26;letter-spacing:0.05px">r.roy@gmail.com</div>
<div class="a" style="left:375.00px;top:734.81px;font-size:5.0px;color:#1e1e26;-webkit-text-stroke:0.1px #1e1e26;letter-spacing:0.05px">Go team</div>
<div class="a" style="left:463.80px;top:735.81px;font-size:4.9px;color:#1e1e26;-webkit-text-stroke:0.1px #1e1e26;letter-spacing:0.05px">Leadership</div>
<div class="a" style="left:552.00px;top:734.81px;font-size:5.3px;color:#6e737e;-webkit-text-stroke:0.3px #6e737e;filter:blur(1.5px)">Lahore, PK</div>
<div class="a" style="left:104px;top:747.8px;width:487px;height:0.6px;background:#eef0f3;border-radius:0px;"></div>
<div class="a" style="left:114.60px;top:757.42px;font-size:4.5px;color:#8a8a94;">Showing 1 to 9 of 28 entries</div>
<div class="a" style="left:174px;top:753.8px;width:14.3px;height:9.4px;border:0.7px solid #e2e4ea;border-radius:2px"></div>
<div class="a" style="left:177.60px;top:757.10px;font-size:4.4px;color:#333;">9</div>
<svg class="s" style="left:182.4px;top:756.2px;" width="2.4" height="4.4" viewBox="0 0 2.4 4.4"><path d="M0.2 1.6L1.2 0.4 2.2 1.6zM0.2 2.8L1.2 4 2.2 2.8z" fill="#555"/></svg>
<div class="a" style="left:493.00px;top:757.51px;font-size:4.7px;color:#9a9aa4;">Previous</div>
<svg class="s" style="left:515.8px;top:753.6px;" width="10" height="10" viewBox="0 0 10 10"><circle cx="5" cy="5" r="5" fill="#2a66ea"/></svg>
<div class="a" style="left:520.80px;transform:translateX(-50%);top:757.54px;font-size:4.7px;color:#fff;font-weight:bold;">1</div>
<div class="a" style="left:531.30px;transform:translateX(-50%);top:757.51px;font-size:4.7px;color:#55555f;">2</div>
<div class="a" style="left:540.80px;transform:translateX(-50%);top:757.51px;font-size:4.7px;color:#55555f;">3</div>
<div class="a" style="left:550.80px;transform:translateX(-50%);top:757.51px;font-size:4.7px;color:#55555f;">4</div>
<div class="a" style="left:560.80px;transform:translateX(-50%);top:757.51px;font-size:4.7px;color:#55555f;">5</div>
<div class="a" style="left:570.00px;top:757.74px;font-size:4.9px;color:#2a5cc6;font-weight:bold;">Next</div>
</body></html>
